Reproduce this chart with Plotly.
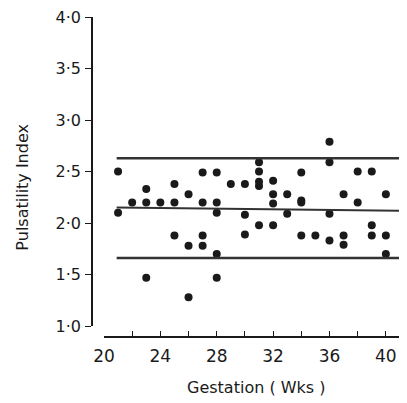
import plotly.graph_objects as go

# gestation (weeks) and pulsatility index of each observation
weeks = [21, 21, 22, 23, 23, 23, 24, 25, 25, 25, 26, 26, 26,
         27, 27, 27, 27, 28, 28, 28, 28, 28, 29, 30, 30, 30,
         31, 31, 31, 31, 31, 32, 32, 32, 32, 33, 33, 34, 34, 34, 34,
         35, 36, 36, 36, 36, 37, 37, 37, 38, 38, 39, 39, 39, 40, 40, 40]
pi_values = [2.50, 2.10, 2.20, 2.20, 2.33, 1.47, 2.20, 2.20, 2.38, 1.88, 2.28, 1.78, 1.28,
             2.49, 2.20, 1.88, 1.78, 2.49, 2.20, 2.10, 1.70, 1.47, 2.38, 2.38, 2.08, 1.89,
             2.59, 2.50, 2.40, 2.36, 1.98, 2.41, 2.28, 2.19, 1.98, 2.28, 2.09, 2.49, 2.22, 2.20, 1.88,
             1.88, 2.79, 2.59, 2.09, 1.83, 2.28, 1.88, 1.79, 2.50, 2.20, 2.50, 1.98, 1.88, 2.28, 1.88, 1.70]

# mean and +/- 2 SD lines
line_x = [20.9, 41.5]
upper_y = [2.63, 2.63]
mean_y = [2.15, 2.12]
lower_y = [1.66, 1.66]

y_ticks = [1.0, 1.5, 2.0, 2.5, 3.0, 3.5, 4.0]
y_labels = ['1·0', '1·5', '2·0', '2·5', '3·0', '3·5', '4·0']
x_ticks = list(range(20, 41, 2))
x_labels = [str(v) if v % 4 == 0 else '' for v in x_ticks]

ink = '#1a1a1a'
font = 'DejaVu Sans'

fig = go.Figure()

fig.add_trace(go.Scatter(
    x=weeks, y=pi_values, mode='markers',
    marker=dict(color=ink, size=8),
    showlegend=False,
))

for ys, w in [(upper_y, 2.5), (mean_y, 2), (lower_y, 2.5)]:
    fig.add_trace(go.Scatter(
        x=line_x, y=ys, mode='lines',
        line=dict(color='#333333', width=w),
        showlegend=False,
    ))

# page body has an 8px margin, so the figure is 8px smaller each way
fig.update_layout(
    width=399, height=395,
    paper_bgcolor='white', plot_bgcolor='white',
    margin=dict(l=84, r=0, t=9, b=66, autoexpand=False),
    font=dict(family=font, color=ink, size=14),
    xaxis=dict(
        domain=[0.038, 1], range=[20, 41.5], anchor='free', position=0,
        tickvals=x_ticks, ticktext=x_labels, ticks='inside', ticklen=5,
        tickcolor=ink, showline=True, linecolor=ink, linewidth=1.5,
        showgrid=False, zeroline=False, ticklabelstandoff=4,
        tickfont=dict(size=17), automargin=False, ticklabeloverflow='allow',
    ),
    yaxis=dict(
        domain=[0.034, 1], range=[1.0, 4.0], anchor='free', position=0,
        tickvals=y_ticks, ticktext=y_labels, ticks='outside', ticklen=6,
        tickcolor=ink, showline=True, linecolor=ink, linewidth=1.5,
        showgrid=False, zeroline=False, tickfont=dict(size=16),
        automargin=False, ticklabeloverflow='allow', ticklabelstandoff=1,
    ),
    annotations=[
        dict(text='Gestation ( Wks )', xref='paper', yref='paper',
             x=0.52, y=-0.159, xanchor='center', yanchor='middle',
             showarrow=False, font=dict(size=16)),
        dict(text='Pulsatility Index', xref='paper', yref='paper',
             x=-0.222, y=0.467, xanchor='center', yanchor='middle',
             textangle=-90, showarrow=False, font=dict(size=16)),
    ],
)

fig.write_html('out.html')
